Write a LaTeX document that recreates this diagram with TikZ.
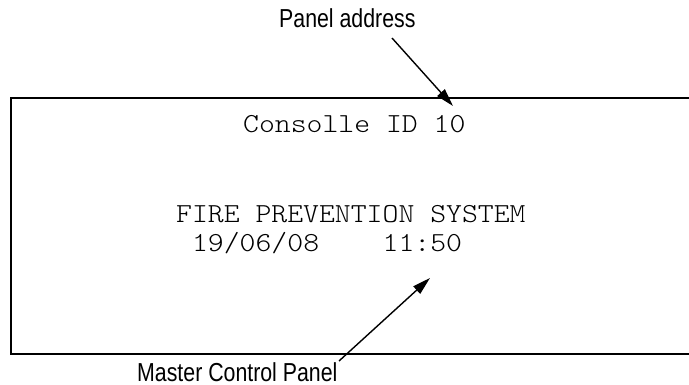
\documentclass[tikz,border=0pt]{standalone}
\usepackage{fontspec}
\usetikzlibrary{arrows.meta}
\newfontfamily\labelfont[FakeStretch=0.82]{Liberation Sans}
\newfontfamily\screenfont[FakeStretch=1.1]{lmmonolt10-regular.otf}
\tikzset{
  frameline/.style={line width=1.9pt, line cap=butt},
  pointer/.style={line width=1.4pt, -{Triangle[length=18pt,width=10pt]}},
  callout/.style={inner sep=0pt, anchor=base west, font=\labelfont\fontsize{26}{30}\selectfont},
  screentext/.style={inner sep=0pt, anchor=base west, font=\screenfont\fontsize{27.5}{30}\selectfont}
}
\begin{document}
\begin{tikzpicture}[x=1pt,y=-1pt]
  \useasboundingbox (0,0) rectangle (689,385);
  % display frame, open on the right
  \draw[frameline] (689,98) -- (11,98) -- (11,354) -- (689,354);
  % display contents
  \node[screentext] (title) at (243,132.5) {Consolle ID 10};
  \node[screentext] (system) at (176,222.3) {FIRE PREVENTION SYSTEM};
  \node[screentext] (stamp) at (176,251.7) {\ 19/06/08\ \ \ \ 11:50};
  % callouts
  \node[callout] (addr) at (279,28) {Panel address};
  \node[callout] (mcp) at (137,381) {Master Control Panel};
  \coordinate (addrtail) at (392,38);
  \coordinate (addrtip) at (453,106);
  \coordinate (mcptail) at (339,361);
  \coordinate (mcptip) at (430,278);
  \draw[pointer] (addrtail) -- (addrtip);
  \draw[pointer] (mcptail) -- (mcptip);
\end{tikzpicture}
\end{document}
